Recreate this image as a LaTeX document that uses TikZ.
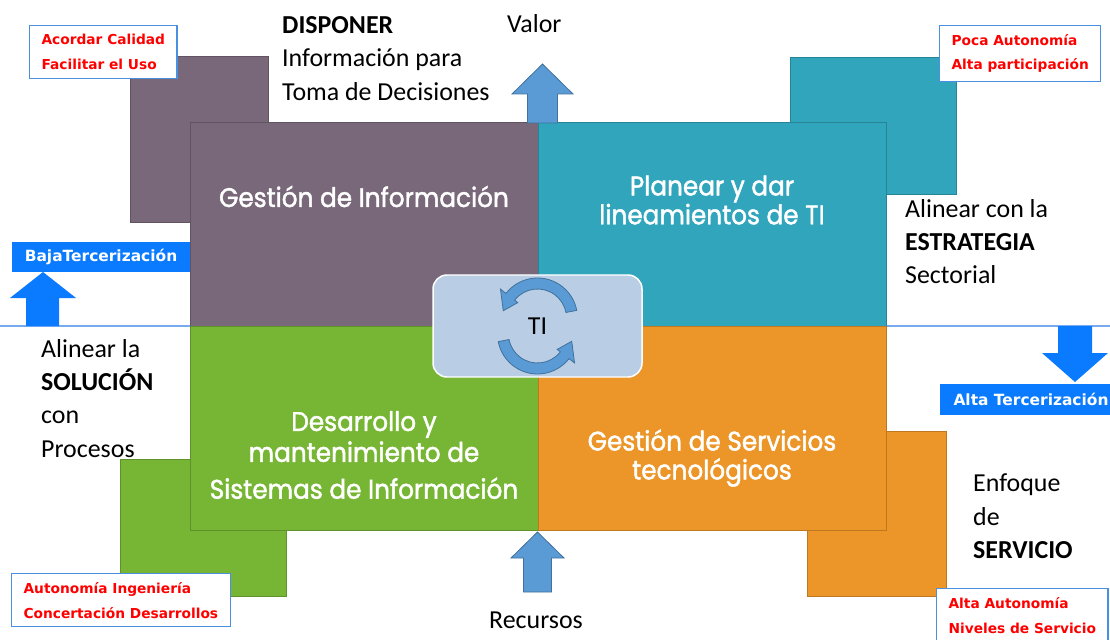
\documentclass[tikz,border=0pt]{standalone}
\usepackage{fontspec}
\setmainfont{Carlito}
\newfontfamily\quadfont{Poppins}[FakeStretch=0.92, FakeBold=1.6]
\newfontfamily\tagfont{DejaVu Sans}
\usepackage{tikz}
\usetikzlibrary{positioning}
\definecolor{infopurple}{RGB}{121,104,121}
\definecolor{planteal}{RGB}{49,165,188}
\definecolor{sisgreen}{RGB}{119,182,52}
\definecolor{servorange}{RGB}{236,150,41}
\definecolor{tibox}{RGB}{185,205,229}
\definecolor{ringblue}{RGB}{91,155,213}
\definecolor{ringedge}{RGB}{65,113,156}
\definecolor{terblue}{RGB}{10,122,255}
\definecolor{tagedge}{RGB}{74,144,226}
\definecolor{axisblue}{RGB}{120,170,240}

\begin{document}
\begin{tikzpicture}[x=1bp, y=-1bp,
  quad/.style={fill=#1, draw=#1!80!black, line width=0.6pt, minimum width=348bp, minimum height=204bp,
    inner sep=0pt, outer sep=0pt},
  back/.style={fill=#1, draw=#1!80!black, line width=0.6pt},
  quadtext/.style={text=white, font=\quadfont\fontsize{27}{29}\selectfont, align=center},
  lbl/.style={font=\fontsize{26}{33.5}\selectfont, align=left, inner sep=0pt},
  tag/.style={draw=tagedge, line width=1.2pt, fill=white, text=red, font=\tagfont\bfseries\fontsize{13.8}{25}\selectfont,
    align=left, inner xsep=12bp, inner ysep=8.5bp, anchor=north west},
  tertag/.style={fill=terblue, text=white, font=\tagfont\bfseries\fontsize{15.5}{18}\selectfont, minimum height=30bp,
    inner sep=0pt},
  block/.style={fill=ringblue, draw=ringedge, line width=0.8pt},
  terarrow/.style={fill=terblue},
  ring/.style={fill=ringblue, draw=ringedge, line width=0.8pt}]
  \useasboundingbox (0,0) rectangle (1110,640);
  \fill[white] (0,0) rectangle (1110,640);
  \clip (0,0) rectangle (1110,640);

  \coordinate (axisw) at (0,326); \coordinate (axise) at (1110,326);
  \draw[axisblue, line width=1.5pt] (axisw) -- (axise);

  \fill[back=infopurple] (130,56) rectangle (268,222);
  \fill[back=planteal] (790,57) rectangle (956,194);
  \fill[back=sisgreen] (120,459) rectangle (286,596);
  \fill[back=servorange] (807,431) rectangle (946,596);
  \node[tertag, minimum width=178bp] (baja) at (101,257) {BajaTercerización};

  \node[quad=infopurple] (info) at (364,224) {};
  \node[quad=planteal] (plan) at (712,224) {};
  \node[quad=sisgreen] (sis) at (364,428) {};
  \node[quad=servorange] (serv) at (712,428) {};

  \node[quadtext, anchor=base] (infot) at (364,207) {Gestión de Información};
  \node[quadtext] (plant) at (712,200) {Planear y dar\\lineamientos de TI};
  \node[quadtext] (sist) at (364,455) {Desarrollo y\\[2pt]mantenimiento de\\[8pt]Sistemas de Información};
  \node[quadtext] (servt) at (712,458) {Gestión de Servicios\\tecnológicos};

  \node[fill=tibox, draw=white, line width=1.5pt, rounded corners=14bp, minimum width=209bp, minimum height=102bp,
    font=\fontsize{26}{30}\selectfont] (ti) at (537.5,326) {TI};
  \begin{scope}[shift={(537.5,318)}]
    \filldraw[ring] (-11:40) arc[start angle=-11, end angle=-142, radius=40] -- (-142:47) -- (-168:35) -- (-142:25)
      -- (-142:29) arc[start angle=-142, end angle=-11, radius=29] -- cycle;
  \end{scope}
  \begin{scope}[shift={(537.5,334)}]
    \filldraw[ring] (169:40) arc[start angle=169, end angle=38, radius=40] -- (38:47) -- (12:35) -- (38:25)
      -- (38:29) arc[start angle=38, end angle=169, radius=29] -- cycle;
  \end{scope}

  \filldraw[block] (542.5,64) -- (573,94) -- (557.5,94) -- (557.5,123) -- (527.5,123) -- (527.5,94) -- (512,94) -- cycle;
  \filldraw[block] (537.5,532) -- (564,558) -- (551.5,558) -- (551.5,592) -- (523.5,592) -- (523.5,558) -- (511,558) -- cycle;
  \fill[terarrow] (43,272) -- (76,298) -- (59,298) -- (59,326) -- (26,326) -- (26,298) -- (10,298) -- cycle;
  \fill[terarrow] (1075,382) -- (1108,353) -- (1092,353) -- (1092,326) -- (1058,326) -- (1058,353) -- (1042,353) -- cycle;
  \node[tertag, minimum width=182bp, minimum height=31bp] (alta) at (1031,399.5) {Alta Tercerización};

  \node[lbl, anchor=north west] (disp) at (282,16.3) {\textbf{DISPONER}\\Información para\\Toma de Decisiones};
  \node[lbl, anchor=base west] (valor) at (507,33) {Valor};
  \node[lbl, anchor=base west] (recur) at (489,628) {Recursos};
  \node[lbl, anchor=north west] (estr) at (905,199) {Alinear con la\\\textbf{ESTRATEGIA}\\Sectorial};
  \node[lbl, anchor=north west] (solu) at (41,339) {Alinear la\\\textbf{SOLUCIÓN}\\con\\Procesos};
  \node[lbl, anchor=north west] (enfo) at (973,474) {Enfoque\\de\\\textbf{SERVICIO}};

  \node[tag] (calidad) at (29,25) {Acordar Calidad\\Facilitar el Uso};
  \node[tag] (autonom) at (939,25) {Poca Autonomía\\Alta participación};
  \node[tag] (ingen) at (11,573) {Autonomía Ingeniería\\Concertación Desarrollos};
  \node[tag] (nivel) at (936,588) {Alta Autonomía\\Niveles de Servicio};
\end{tikzpicture}
\end{document}
